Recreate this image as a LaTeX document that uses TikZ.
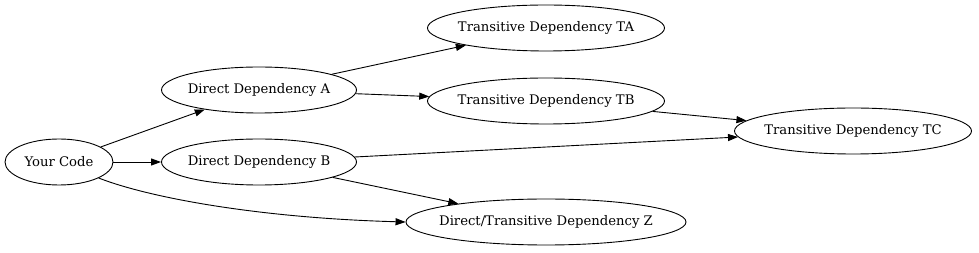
\documentclass[tikz,border=0pt]{standalone}
\usepackage{fontspec}
\setmainfont{DejaVu Serif}
\usetikzlibrary{arrows.meta,shapes.geometric}
\begin{document}
\begin{tikzpicture}[x=1pt,y=-1pt,
  dep/.style={draw, ellipse, line width=0.9pt, inner xsep=-20pt, inner ysep=0pt, font=\fontsize{13.2}{15}\selectfont},
  arr/.style={-{Triangle[length=10pt,width=7pt]}, line width=0.9pt}]
\useasboundingbox (0,0) rectangle (979,253);
\node[dep, minimum width=108pt, minimum height=46pt] (code) at (59,162) {Your Code};
\node[dep, minimum width=195pt, minimum height=46pt] (a) at (259,90) {Direct Dependency A};
\node[dep, minimum width=195pt, minimum height=46pt] (b) at (259,162) {Direct Dependency B};
\node[dep, minimum width=237pt, minimum height=46pt] (ta) at (546,28) {Transitive Dependency TA};
\node[dep, minimum width=237pt, minimum height=46pt] (tb) at (546,101) {Transitive Dependency TB};
\node[dep, minimum width=237pt, minimum height=46pt] (tc) at (853,131) {Transitive Dependency TC};
\node[dep, minimum width=280pt, minimum height=46pt] (z) at (546,222) {Direct/Transitive Dependency Z};
\draw[arr] (code) -- (a);
\draw[arr] (code) -- (b);
\draw[arr] (code.-22) .. controls (150,198) and (260,218) .. (z.west);
\draw[arr] (a) -- (ta);
\draw[arr] (a) -- (tb);
\draw[arr] (b) -- (tc);
\draw[arr] (b) -- (z);
\draw[arr] (tb) -- (tc);
\end{tikzpicture}
\end{document}
